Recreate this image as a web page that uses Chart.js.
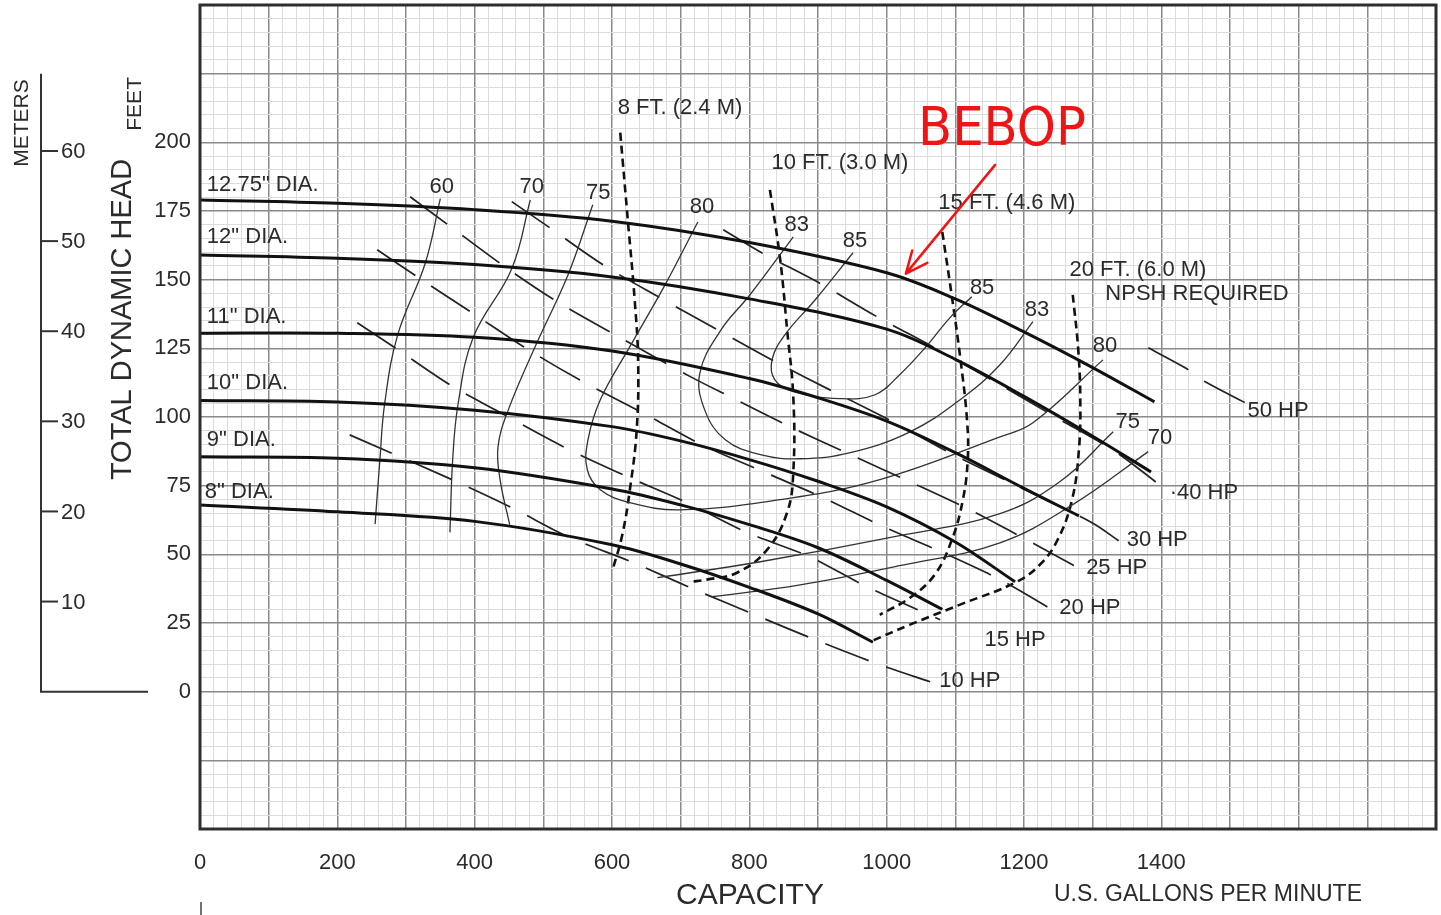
<!DOCTYPE html>
<html>
<head>
<meta charset="utf-8">
<title>Pump performance curve</title>
<script src="https://cdn.jsdelivr.net/npm/chart.js@4.4.1/dist/chart.umd.min.js"></script>
<style>
  html, body { margin: 0; padding: 0; background: #fff; }
  #wrap { width: 1441px; height: 915px; position: relative; }
</style>
</head>
<body>
<div id="wrap"><canvas id="c" width="1441" height="915"></canvas></div>
<script>
// ---- Impeller diameter curves: [capacity GPM, total dynamic head ft] ----
const dia1275 = [[0,179],[200,177.8],[400,175.5],[600,171.3],[800,163.5],[1000,152.5],[1100,143],[1200,131],[1300,118],[1390,105.5]];
const dia12   = [[0,159],[200,157.8],[400,155.5],[600,151],[800,143],[1000,132],[1100,121],[1200,107.5],[1300,93],[1385,80]];
const dia11   = [[0,130.5],[200,130.5],[400,129],[600,124],[800,114],[900,107],[1000,98.5],[1100,87],[1200,74],[1280,64]];
const dia10   = [[0,106],[200,105.5],[400,102.5],[600,96.5],[700,91.3],[800,84.5],[900,76.6],[1000,67.3],[1100,54.5],[1187,40]];
const dia9    = [[0,85.5],[200,85],[400,81.5],[600,73.8],[700,68],[800,60.8],[900,52.4],[1000,40.5],[1081,30]];
const dia8    = [[0,68],[200,65.5],[400,62],[600,53.5],[700,46.5],[800,38],[900,28.3],[980,18]];

// ---- Efficiency contours (%) ----
const eff60  = [[350,179.5],[328,156],[288,130],[269,105],[262,84.5],[255,61]];
const eff70  = [[481,179],[454,154],[398,129],[376,105],[368,84.5],[364,58]];
const eff75  = [[572,177.3],[536,151.8],[488,125.6],[449,102.6],[434,89.2],[437,77.2],[451,60.8]];
const eff80  = [[725,171],[677,148],[626,125.6],[583,106.3],[565,91.7],[564,80.8],[583,73.5],[626,68.8],[699,66.2],[845,69.9],[990,77.2],[1165,92.8],[1213,97.9],[1315,120.8]];
const eff83  = [[864,165.6],[801,144.5],[759,131.8],[728,116.1],[735,102.6],[765,91.7],[816,86.3],[874,84.8],[947,87],[1034,94.6],[1107,106.3],[1165,119],[1213,134.7]];
const eff85  = [[951,159.8],[896,142.7],[852,130],[833,120.8],[837,113.6],[864,109.2],[932,106.7],[983,108.1],[1019,115.4],[1056,125.2],[1092,136.1],[1124,143.8]];
const eff75b = [[666,41.5],[816,47.3],[1019,56.8],[1165,64.8],[1252,76.4],[1330,94.6]];
const eff70b = [[747,34.6],[874,38.9],[1019,45.9],[1165,54.2],[1271,68.1],[1381,87.4]];

// ---- NPSH required contours ----
const npsh8  = [[612,203.5],[623,171.8],[633,142.7],[638,120.8],[636,95.4],[626,73.5],[615,57.1],[601,44.4]];
const npsh10 = [[830,182.7],[845,157.2],[855,131.8],[864,107.4],[864,79.7],[855,65.2],[826,51.7],[782,43.3],[738,40.8],[714,40]];
const npsh15 = [[1081,167.4],[1095,143.8],[1107,121.9],[1117,99],[1118,84.4],[1111,69.9],[1095,55.3],[1070,42.6],[1034,34.2],[990,28]];
const npsh20 = [[1271,144.5],[1279,124.5],[1282,106.3],[1280,88.1],[1270,69.9],[1249,55.3],[1223,46.2],[1187,39.7],[1107,31.7],[1034,24.4],[976,18.2]];

// ---- Brake horsepower lines ----
const hp10 = [[218,93.5],[367,77.2],[454,67],[536,56.4],[631,47],[721,37.1],[808,28],[896,18.9],[990,9.8],[1067,3.3]];
const hp15 = [[229,134.3],[284,125.2],[364,111.7],[430,102.6],[532,88.8],[622,78.3],[709,68.8],[797,57.9],[888,49.1],[971,38.2],[1078,26.2]];
const hp20 = [[258,160.9],[316,151.1],[396,138],[478,124.5],[558,112.8],[645,101.5],[731,89.9],[820,80.1],[907,70.7],[995,60.1],[1082,50.6],[1165,40.8],[1248,28.8]];
const hp25 = [[306,180.2],[361,170],[440,155.4],[520,142],[604,130],[714,114.7],[772,107.4],[859,96.5],[947,86.3],[1034,76.4],[1121,66.2],[1209,54.6],[1284,44.4]];
const hp30 = [[454,178.4],[507,169.3],[587,155.4],[670,143.4],[753,131.8],[840,119.8],[925,108.9],[1012,97.9],[1097,86.3],[1187,75.3],[1299,61.5],[1340,54.6]];
const hp40 = [[762,168.2],[818,159.8],[899,149.2],[986,136.5],[1067,125.6],[1158,112.8],[1245,100.1],[1333,87.4],[1401,74.6]];
const hp50 = [[1381,125.2],[1434,118],[1464,112.8],[1522,105.2]];

// ---- Axis tick labels ----
const xTickLabels = [0, 200, 400, 600, 800, 1000, 1200, 1400];
const yTickLabels = [0, 25, 50, 75, 100, 125, 150, 175, 200];
const meterTicks  = [10, 20, 30, 40, 50, 60];

// ---- Curve annotations [text, GPM, ft] ----
const diaLabels  = [['12.75" DIA.',10,184.5],['12" DIA.',10,165.6],['11" DIA.',10,136.5],['10" DIA.',10,112.5],['9" DIA.',10,91.7],['8" DIA.',7,72.8]];
const effLabels  = [['60',352,183.8],['70',483,183.8],['75',580,181.6],['80',731,176.5],['83',869,170],['85',954,164.2],
                    ['85',1139,147.1],['83',1219,139],['80',1318,125.9],['75',1351,98.3],['70',1398,92.5]];
const npshLabels = [['8 FT. (2.4 M)',699,212.6],['10 FT. (3.0 M)',932,192.6],['15 FT. (4.6 M)',1175,178],['20 FT. (6.0 M)',1366,153.6],['NPSH REQUIRED',1452,144.9]];
const hpLabels   = [['50 HP',1570,102.3],['·40 HP',1462,72.4],['30 HP',1394,55.3],['25 HP',1335,45.1],['20 HP',1296,30.6],['15 HP',1187,18.9],['10 HP',1121,4]];

const FT_PER_M = 3.28084;
const TEXT = '#2b2b2b';
const FONT = '"Liberation Sans", Arial, sans-serif';

function series(data, color, width, dash, tension) {
  return {
    data: data.map(([x, y]) => ({ x, y })),
    showLine: true,
    pointRadius: 0,
    pointHoverRadius: 0,
    borderColor: color,
    borderWidth: width,
    borderDash: dash || [],
    tension: tension,
    fill: false,
    borderCapStyle: 'butt'
  };
}

const datasets = [
  ...[dia1275, dia12, dia11, dia10, dia9, dia8].map(d => series(d, '#111', 3, null, 0.35)),
  ...[eff60, eff70, eff75, eff80, eff83, eff85, eff75b, eff70b].map(d => series(d, '#333', 1.3, null, 0.4)),
  ...[hp10, hp15, hp20, hp25, hp30, hp40, hp50].map(d => series(d, '#222', 1.7, [46, 19], 0.3)),
  ...[npsh8, npsh10, npsh15, npsh20].map(d => series(d, '#111', 2.6, [8, 5], 0.4))
];

function isMultiple(v, step) {
  const r = v / step;
  return Math.abs(r - Math.round(r)) < 1e-6;
}

const decorations = {
  id: 'decorations',
  afterDraw(chart) {
    const { ctx, chartArea: a, scales: { x, y } } = chart;
    const px = v => x.getPixelForValue(v);
    const py = v => y.getPixelForValue(v);
    ctx.save();

    // plot frame
    ctx.strokeStyle = '#2e2e2e';
    ctx.lineWidth = 3;
    ctx.strokeRect(a.left, a.top, a.right - a.left, a.bottom - a.top);

    // metric head axis
    const mx = 41;
    ctx.strokeStyle = '#333';
    ctx.lineWidth = 2;
    ctx.beginPath();
    ctx.moveTo(mx, py(225));
    ctx.lineTo(mx, py(0));
    ctx.lineTo(148, py(0));
    ctx.stroke();
    ctx.fillStyle = TEXT;
    ctx.font = '22px ' + FONT;
    ctx.textAlign = 'left';
    ctx.textBaseline = 'middle';
    meterTicks.forEach(m => {
      const yy = py(m * FT_PER_M);
      ctx.beginPath();
      ctx.moveTo(mx, yy);
      ctx.lineTo(mx + 17, yy);
      ctx.stroke();
      ctx.fillText(String(m), mx + 20, yy + 1);
    });

    // rotated axis captions
    const rot = (text, cx, cy, size) => {
      ctx.save();
      ctx.translate(cx, cy);
      ctx.rotate(-Math.PI / 2);
      ctx.font = size + 'px ' + FONT;
      ctx.textAlign = 'center';
      ctx.textBaseline = 'middle';
      ctx.fillText(text, 0, 0);
      ctx.restore();
    };
    rot('METERS', 22, py(207), 21);
    rot('FEET', 135, py(214), 21);
    rot('TOTAL DYNAMIC HEAD', 123, py(135.5), 29);

    // capacity captions
    ctx.textAlign = 'center';
    ctx.textBaseline = 'middle';
    ctx.font = '30px ' + FONT;
    ctx.fillText('CAPACITY', 750, 896);
    ctx.font = '23px ' + FONT;
    ctx.fillText('U.S. GALLONS PER MINUTE', 1208, 895, 322);

    // small mark under the origin label
    ctx.strokeStyle = '#444';
    ctx.lineWidth = 1.5;
    ctx.beginPath();
    ctx.moveTo(px(0) + 1, 902);
    ctx.lineTo(px(0) + 1, 915);
    ctx.stroke();

    // curve annotations
    ctx.font = '22px ' + FONT;
    ctx.fillStyle = TEXT;
    ctx.textAlign = 'left';
    diaLabels.forEach(([t, gx, gy]) => ctx.fillText(t, px(gx), py(gy)));
    ctx.textAlign = 'center';
    effLabels.forEach(([t, gx, gy]) => ctx.fillText(t, px(gx), py(gy)));
    npshLabels.forEach(([t, gx, gy]) => ctx.fillText(t, px(gx), py(gy)));
    hpLabels.forEach(([t, gx, gy]) => ctx.fillText(t, px(gx), py(gy)));

    // handwritten call-out with arrow
    ctx.fillStyle = '#f01414';
    ctx.strokeStyle = '#f01414';
    ctx.font = '54px "Comic Sans MS", "DejaVu Sans", sans-serif';
    ctx.textAlign = 'center';
    ctx.textBaseline = 'middle';
    ctx.fillText('BEBOP', px(1168), py(204), 168);
    const x0 = px(1158), y0 = py(191.8), x1 = px(1028), y1 = py(152.2);
    ctx.lineWidth = 2.5;
    ctx.lineCap = 'round';
    ctx.beginPath();
    ctx.moveTo(x0, y0);
    ctx.lineTo(x1, y1);
    const ang = Math.atan2(y1 - y0, x1 - x0);
    const head = 24;
    ctx.moveTo(x1, y1);
    ctx.lineTo(x1 - head * Math.cos(ang - 0.42), y1 - head * Math.sin(ang - 0.42));
    ctx.moveTo(x1, y1);
    ctx.lineTo(x1 - head * Math.cos(ang + 0.42), y1 - head * Math.sin(ang + 0.42));
    ctx.stroke();

    ctx.restore();
  }
};

new Chart(document.getElementById('c'), {
  type: 'scatter',
  data: { datasets },
  options: {
    responsive: false,
    animation: false,
    events: [],
    layout: { padding: { top: 5, right: 5, left: 0, bottom: 0 } },
    plugins: { legend: { display: false }, tooltip: { enabled: false } },
    scales: {
      x: {
        type: 'linear',
        min: 0, max: 1800,
        afterFit: s => { s.height = 86; s.paddingLeft = 0; s.paddingRight = 0; },
        border: { display: false },
        grid: {
          drawTicks: false,
          color: c => isMultiple(c.tick.value, 100) ? '#8a8a8a' : '#dcdcdc',
          lineWidth: c => isMultiple(c.tick.value, 100) ? 1.5 : 1
        },
        ticks: {
          stepSize: 20,
          autoSkip: false,
          maxRotation: 0,
          minRotation: 0,
          padding: 21,
          color: TEXT,
          font: { family: FONT, size: 22 },
          callback: v => xTickLabels.includes(Math.round(v)) && isMultiple(v, 200) ? String(Math.round(v)) : ''
        }
      },
      y: {
        type: 'linear',
        min: -50, max: 250,
        afterFit: s => { s.width = 200; s.paddingTop = 0; s.paddingBottom = 0; },
        border: { display: false },
        grid: {
          drawTicks: false,
          color: c => isMultiple(c.tick.value, 25) ? '#8a8a8a' : '#dcdcdc',
          lineWidth: c => isMultiple(c.tick.value, 25) ? 1.5 : 1
        },
        ticks: {
          stepSize: 5,
          autoSkip: false,
          padding: 9,
          color: TEXT,
          font: { family: FONT, size: 22 },
          callback: v => yTickLabels.includes(Math.round(v)) && isMultiple(v, 25) ? String(Math.round(v)) : ''
        }
      }
    }
  },
  plugins: [decorations]
});
</script>
</body>
</html>
